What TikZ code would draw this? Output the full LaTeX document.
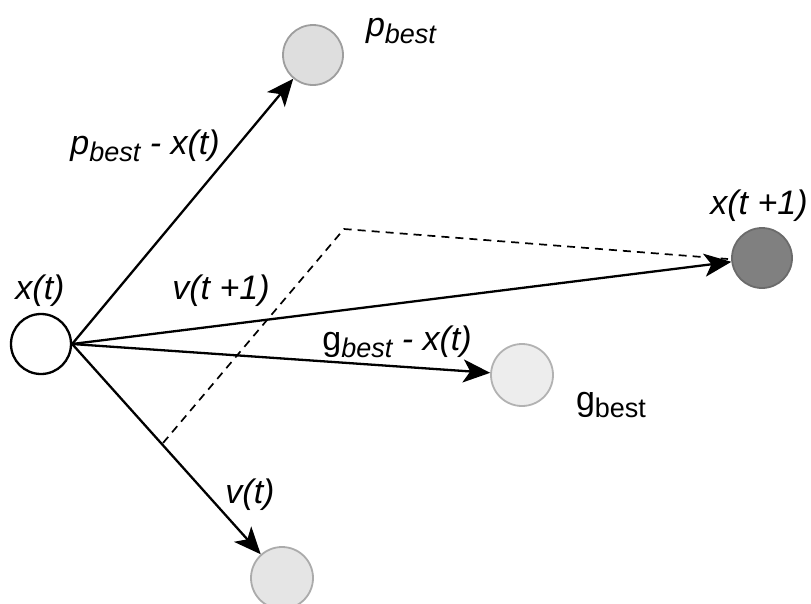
\documentclass[tikz,border=0pt]{standalone}
\usepackage{fontspec}
\setmainfont{Liberation Sans}
\usetikzlibrary{arrows.meta}
\newcommand\lowsub[1]{\raisebox{-7pt}{\fontsize{27}{27}\selectfont #1}}
\begin{document}
\begin{tikzpicture}[x=1pt,y=-1pt,
  pt/.style={circle,minimum size=60pt,inner sep=0pt,line width=1.8pt},
  lbl/.style={font=\fontsize{34}{36}\selectfont\itshape,inner sep=0pt},
  vec/.style={line width=2.3pt,-{Stealth[length=27pt,width=23pt,inset=7pt]}},
  aux/.style={line width=1.7pt,dash pattern=on 8pt off 6pt}]
\useasboundingbox (0,0) rectangle (811,603);
\node[pt,draw=black,fill=white,line width=2.3pt] (xt) at (41,344) {};
\node[pt,draw=black!38,fill=black!13] (pb) at (313,55) {};
\node[pt,draw=black!58,fill=black!50] (xt1) at (762,258) {};
\node[pt,draw=black!30,fill=black!7,minimum size=62pt] (gb) at (522,375) {};
\node[pt,draw=black!33,fill=black!10,minimum size=62pt] (vt) at (282,578) {};
\coordinate (d1) at (163,443);
\coordinate (d2) at (344,229);
\coordinate (d3) at (728,259);
\draw[aux] (d1) -- (d2) -- (d3);
\draw[vec] (xt.east) -- (pb);
\draw[vec] (xt.east) -- (xt1);
\draw[vec] (xt.east) -- (gb);
\draw[vec] (xt.east) -- (vt);
\node[lbl] (lxt) at (40,291) {x(t)};
\node[lbl] (lpb) at (401,31) {p\lowsub{best}};
\node[lbl] (lpbd) at (145,146) {p\lowsub{best} - x(t)};
\node[lbl] (lv1) at (221,291) {v(t +1)};
\node[lbl] (lxt1) at (759,206) {x(t +1)};
\node[lbl] (lgbd) at (397,342) {\upshape g\itshape\lowsub{best} - x(t)};
\node[lbl,font=\fontsize{34}{36}\selectfont\upshape] (lgb) at (611,405) {g\lowsub{best}};
\node[lbl] (lvt) at (250,495) {v(t)};
\end{tikzpicture}
\end{document}
